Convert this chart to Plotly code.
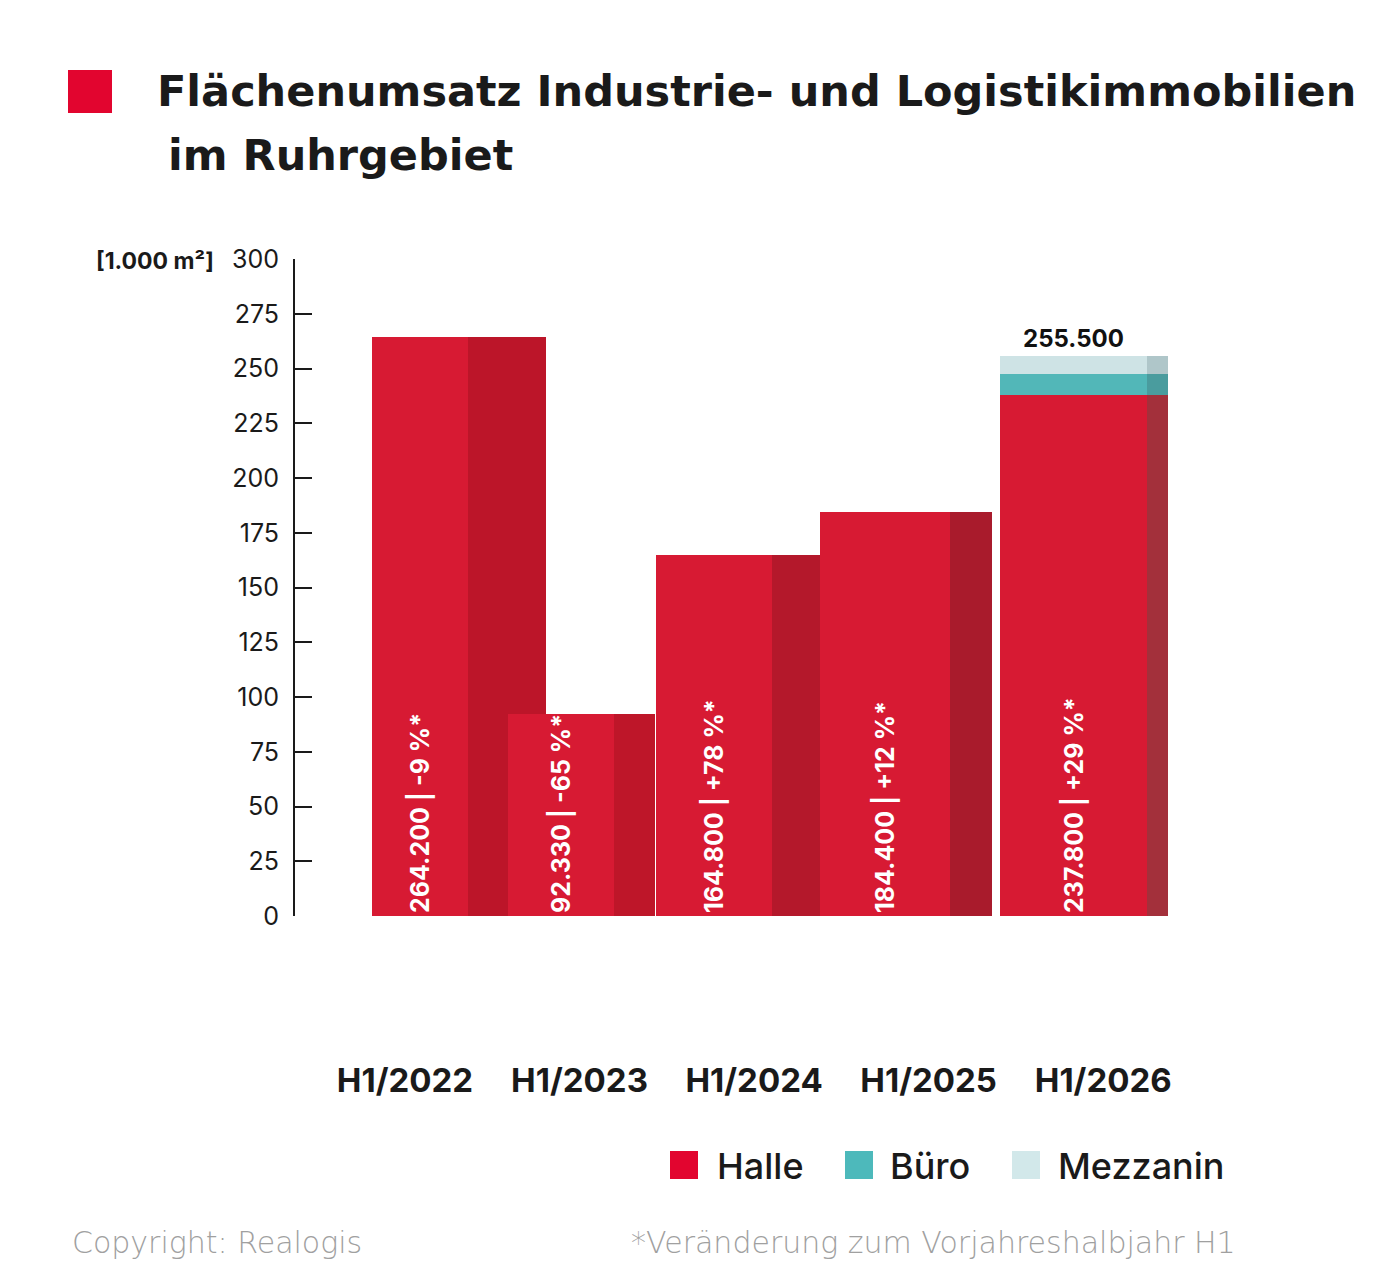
import plotly.graph_objects as go

# ---------------- data ----------------
categories = ["H1/2022", "H1/2023", "H1/2024", "H1/2025", "H1/2026"]
halle = [264.2, 92.33, 164.8, 184.4, 237.8]          # 1.000 m²
buero = [0, 0, 0, 0, 9.5]                             # estimated split
mezzanin = [0, 0, 0, 0, 8.2]                          # estimated split
total_2026 = 255.5
changes = ["-9", "-65", "+78", "+12", "+29"]          # % vs. previous H1
y_ticks = [0, 25, 50, 75, 100, 125, 150, 175, 200, 225, 250, 275, 300]

# ---------------- style ----------------
W, H = 1390, 1280
L, R, T, B = 295, 1180, 259, 916
FONT = "Inter"
TITLE_FONT = "DejaVu Sans"
FRONT_OFFSET = [-0.19, -0.41, -0.56, -0.62, -0.59]
FRONT_WIDTH = [0.55, 0.61, 0.665, 0.745, 0.84]
SIDE_WIDTH = [0.45, 0.23, 0.275, 0.24, 0.12]
SIDE_OFFSET = [o + w for o, w in zip(FRONT_OFFSET, FRONT_WIDTH)]
RED_FRONT = "#D71A33"
RED_SIDE = ["#BC1529", "#BE1629", "#B4182B", "#A91B2C", "#A3303B"]
TEAL_FRONT, TEAL_SIDE = "#52B7B8", "#4A9C9E"
MEZZ_FRONT, MEZZ_SIDE = "#CEE3E5", "#AFC6C9"


def fx(x):
    return (x - L) / (R - L)


def fy(y):
    return (B - y) / (B - T)


xs = list(range(len(categories)))
fmt = lambda v: f"{v * 1000:,.0f}".replace(",", ".")
bar_text = [f"{fmt(v)} | {c} %*" for v, c in zip(halle, changes)]

# only the bars where the upper segments exist
seg_idx = [i for i in xs if buero[i] > 0 or mezzanin[i] > 0]
seg_x = seg_idx
seg_buero = [buero[i] for i in seg_idx]
seg_mezz = [mezzanin[i] for i in seg_idx]
seg_buero_base = [halle[i] for i in seg_idx]
seg_mezz_base = [halle[i] + buero[i] for i in seg_idx]
seg_front_off = [FRONT_OFFSET[i] for i in seg_idx]
seg_front_w = [FRONT_WIDTH[i] for i in seg_idx]
seg_side_off = [SIDE_OFFSET[i] for i in seg_idx]
seg_side_w = [SIDE_WIDTH[i] for i in seg_idx]
seg_total_text = [fmt(total_2026) for _ in seg_idx]

fig = go.Figure()

# side faces (drawn first)
fig.add_trace(go.Bar(x=xs, y=halle, offset=SIDE_OFFSET, width=SIDE_WIDTH,
                     marker=dict(color=RED_SIDE, line_width=0), showlegend=False,
                     hoverinfo="skip"))
fig.add_trace(go.Bar(x=seg_x, y=seg_buero, base=seg_buero_base, offset=seg_side_off,
                     width=seg_side_w, marker=dict(color=TEAL_SIDE, line_width=0),
                     showlegend=False, hoverinfo="skip"))
fig.add_trace(go.Bar(x=seg_x, y=seg_mezz, base=seg_mezz_base, offset=seg_side_off,
                     width=seg_side_w, marker=dict(color=MEZZ_SIDE, line_width=0),
                     showlegend=False, hoverinfo="skip"))

# front faces
fig.add_trace(go.Bar(x=xs, y=halle, offset=FRONT_OFFSET, width=FRONT_WIDTH, name="Halle",
                     marker=dict(color=RED_FRONT, line_width=0), showlegend=False,
                     text=bar_text, textposition="inside", insidetextanchor="start",
                     textangle=-90, constraintext="none",
                     insidetextfont=dict(family=FONT, size=25, color="white", weight="bold")))
fig.add_trace(go.Bar(x=seg_x, y=seg_buero, base=seg_buero_base, offset=seg_front_off,
                     width=seg_front_w, name="Büro",
                     marker=dict(color=TEAL_FRONT, line_width=0), showlegend=False))
fig.add_trace(go.Bar(x=seg_x, y=seg_mezz, base=seg_mezz_base, offset=seg_front_off,
                     width=seg_front_w, name="Mezzanin",
                     marker=dict(color=MEZZ_FRONT, line_width=0),
                     showlegend=False, text=seg_total_text, textposition="outside",
                     textangle=0, cliponaxis=False,
                     outsidetextfont=dict(family=FONT, size=24, color="#111", weight="bold")))

annotations = []
shapes = []

# title
shapes.append(dict(type="rect", xref="paper", yref="paper", x0=fx(68), x1=fx(112),
                   y0=fy(113), y1=fy(70), fillcolor="#E2052F", line_width=0))
annotations.append(dict(text="Flächenumsatz Industrie- und Logistikimmobilien",
                        xref="paper", yref="paper", x=fx(155), y=fy(91),
                        xanchor="left", yanchor="middle", showarrow=False,
                        font=dict(family=TITLE_FONT, size=43, color="#1a1a1a", weight="bold")))
annotations.append(dict(text="im Ruhrgebiet",
                        xref="paper", yref="paper", x=fx(166), y=fy(155),
                        xanchor="left", yanchor="middle", showarrow=False,
                        font=dict(family=TITLE_FONT, size=43, color="#1a1a1a", weight="bold")))

# unit label
annotations.append(dict(text="[1.000 m²]", xref="paper", yref="paper", x=fx(216), y=fy(261),
                        xanchor="right", yanchor="middle", showarrow=False,
                        font=dict(family=FONT, size=23, color="#1a1a1a", weight="bold")))

# legend
legend_items = [("Halle", "#E2052F", 670, 715), ("Büro", "#4DB9BB", 845, 888),
                ("Mezzanin", "#D2E8EA", 1012, 1056)]
for name, col, sx, tx in legend_items:
    shapes.append(dict(type="rect", xref="paper", yref="paper", x0=fx(sx), x1=fx(sx + 28),
                       y0=fy(1179), y1=fy(1151), fillcolor=col, line_width=0))
    annotations.append(dict(text=name, xref="paper", yref="paper", x=fx(tx), y=fy(1166),
                            xanchor="left", yanchor="middle", showarrow=False,
                            font=dict(family=FONT, size=36, color="#1a1a1a", weight=500)))

# footer
annotations.append(dict(text="Copyright: Realogis", xref="paper", yref="paper",
                        x=fx(70), y=fy(1242), xanchor="left", yanchor="middle",
                        showarrow=False,
                        font=dict(family="DejaVu Sans", size=30, color="#a0a0a0", weight=200)))
annotations.append(dict(text="*Veränderung zum Vorjahreshalbjahr H1", xref="paper", yref="paper",
                        x=fx(1238), y=fy(1242), xanchor="right", yanchor="middle",
                        showarrow=False,
                        font=dict(family="DejaVu Sans", size=30, color="#a0a0a0", weight=200)))

fig.update_layout(
    width=W, height=H,
    margin=dict(l=L, r=W - R, t=T, b=H - B, pad=0),
    paper_bgcolor="white", plot_bgcolor="white",
    barmode="overlay", bargap=0,
    showlegend=False,
    annotations=annotations, shapes=shapes,
    font=dict(family=FONT, color="#1a1a1a"),
    xaxis=dict(range=[-0.63, 4.44], tickvals=xs, ticktext=categories,
               showgrid=False, zeroline=False, showline=False, ticks="",
               ticklabelstandoff=142,
               tickfont=dict(family=FONT, size=33, color="#1a1a1a", weight="bold")),
    yaxis=dict(range=[0, 300], tickvals=y_ticks, showgrid=False, zeroline=False,
               showline=True, linecolor="#1a1a1a", linewidth=2,
               ticks="inside", ticklen=17, tickwidth=2, tickcolor="#1a1a1a",
               ticklabelstandoff=9,
               tickfont=dict(family=FONT, size=25, color="#1a1a1a")),
)

fig.write_html("out.html")
